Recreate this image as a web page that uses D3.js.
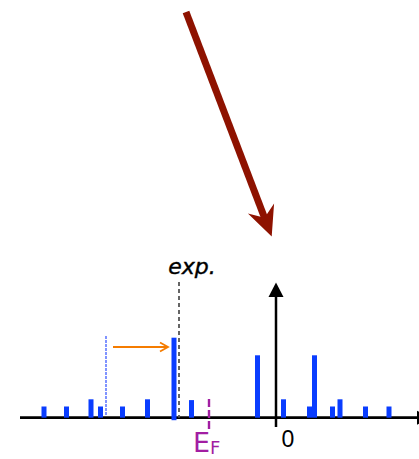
<!DOCTYPE html>
<html>
<head>
<meta charset="utf-8">
<script src="https://cdn.jsdelivr.net/npm/d3@7"></script>
<style>
  body { margin: 0; background: #fff; }
  svg { display: block; }
</style>
</head>
<body>
<svg id="chart" width="419" height="459"></svg>
<script>
(function() {

    // line positions (energy, arbitrary units, 0 = vertical axis) and intensities
    var energies = [-232, -209.5, -185, -175.5, -153.5, -128.5, -102, -84.5, -18.5, 7.5, 33.5, 38.5, 56.5, 64, 89.5, 113];
    var weights  = [0.14, 0.14, 0.23, 0.14, 0.14, 0.23, 1.0, 0.22, 0.78, 0.23, 0.14, 0.78, 0.14, 0.23, 0.14, 0.14];

    var expPos = -97,     // experimental line
        startPos = -170,  // original (unshifted) position
        fermiPos = -67;   // Fermi level

    var W = 419, H = 459,
        barW = 5;

    var svg = d3.select('#chart');

    var x = d3.scaleLinear().domain([-256, 143]).range([20, 419]);
    var y = d3.scaleLinear().domain([0, 1]).range([417.7, 337.7]);

    // big dark red arrow on top
    var tip = [271.7, 236.5], tail = [186, 12];
    var ang = Math.atan2(tip[1] - tail[1], tip[0] - tail[0]);
    var ux = Math.cos(ang), uy = Math.sin(ang);
    var shaftEnd = [tip[0] - ux * 18, tip[1] - uy * 18];
    svg.append('line')
        .attr('x1', tail[0]).attr('y1', tail[1])
        .attr('x2', shaftEnd[0]).attr('y2', shaftEnd[1])
        .attr('stroke', '#8e1200')
        .attr('stroke-width', 7);
    var back = 30, half = 14, notch = 20;
    var p1 = [tip[0] - ux * back - uy * half, tip[1] - uy * back + ux * half];
    var p2 = [tip[0] - ux * back + uy * half, tip[1] - uy * back - ux * half];
    var pn = [tip[0] - ux * notch, tip[1] - uy * notch];
    svg.append('path')
        .attr('d', 'M' + tip + 'L' + p1 + 'L' + pn + 'L' + p2 + 'Z')
        .attr('fill', '#8e1200');

    // horizontal axis
    svg.append('line')
        .attr('x1', 20).attr('y1', y(0))
        .attr('x2', W).attr('y2', y(0))
        .attr('stroke', '#000').attr('stroke-width', 2.7);
    svg.append('path')
        .attr('d', 'M417,' + (y(0) - 7) + 'L431,' + y(0) + 'L417,' + (y(0) + 7) + 'Z')
        .attr('fill', '#000');

    // vertical axis at 0
    svg.append('line')
        .attr('x1', x(0)).attr('y1', 427)
        .attr('x2', x(0)).attr('y2', 295)
        .attr('stroke', '#000').attr('stroke-width', 2.5);
    svg.append('path')
        .attr('d', 'M' + x(0) + ',282.5L' + (x(0) - 7.5) + ',297L' + (x(0) + 7.5) + ',297Z')
        .attr('fill', '#000');

    // experimental line
    svg.append('line')
        .attr('x1', x(expPos)).attr('y1', 282)
        .attr('x2', x(expPos)).attr('y2', y(0))
        .attr('stroke', '#555').attr('stroke-width', 1.8)
        .attr('stroke-dasharray', '4,3');
    svg.append('text')
        .attr('x', 192).attr('y', 274)
        .attr('text-anchor', 'middle')
        .attr('font-family', 'DejaVu Sans, sans-serif')
        .attr('font-style', 'italic')
        .attr('font-size', 22)
        .attr('fill', '#000')
        .attr('stroke', '#000')
        .attr('stroke-width', 0.4)
        .text('exp.');

    // original position
    svg.append('line')
        .attr('x1', x(startPos)).attr('y1', 336)
        .attr('x2', x(startPos)).attr('y2', y(0) - 2)
        .attr('stroke', '#1a3cff').attr('stroke-width', 1.1)
        .attr('stroke-dasharray', '3,1');

    // shift arrow
    var ax1 = x(startPos) + 7, ax2 = x(expPos) - 11, ay = 347;
    svg.append('line')
        .attr('x1', ax1).attr('y1', ay)
        .attr('x2', ax2).attr('y2', ay)
        .attr('stroke', '#f57c00').attr('stroke-width', 2);
    svg.append('path')
        .attr('d', 'M' + (ax2 - 8) + ',' + (ay - 4.5) + 'L' + ax2 + ',' + ay + 'L' + (ax2 - 8) + ',' + (ay + 4.5))
        .attr('fill', 'none')
        .attr('stroke', '#f57c00').attr('stroke-width', 1.8);

    // Fermi level
    svg.append('line')
        .attr('x1', x(fermiPos)).attr('y1', 399)
        .attr('x2', x(fermiPos)).attr('y2', 429)
        .attr('stroke', '#a21ea2').attr('stroke-width', 2.4)
        .attr('stroke-dasharray', '8,3');
    var ef = svg.append('text')
        .attr('x', 193).attr('y', 452)
        .attr('font-family', 'DejaVu Sans, sans-serif')
        .attr('font-size', 27)
        .attr('fill', '#a21ea2');
    ef.append('tspan').text('E');
    ef.append('tspan').attr('font-size', 18).attr('dy', 2).text('F');

    // zero label
    svg.append('text')
        .attr('x', 288).attr('y', 447)
        .attr('text-anchor', 'middle')
        .attr('font-family', 'Liberation Sans, Arial, sans-serif')
        .attr('font-size', 23)
        .attr('fill', '#000')
        .text('0');

    // spectral lines
    svg.append('g')
        .selectAll('rect')
        .data(energies)
        .enter()
        .append('rect')
        .attr('x', function(d) { return x(d) - barW / 2; })
        .attr('y', function(d, i) { return y(weights[i]); })
        .attr('width', barW)
        .attr('height', function(d, i) { return y(0) - y(weights[i]) + (weights[i] === 1 ? 2.5 : 0); })
        .attr('fill', '#0a3dff');

})();
</script>
</body>
</html>
